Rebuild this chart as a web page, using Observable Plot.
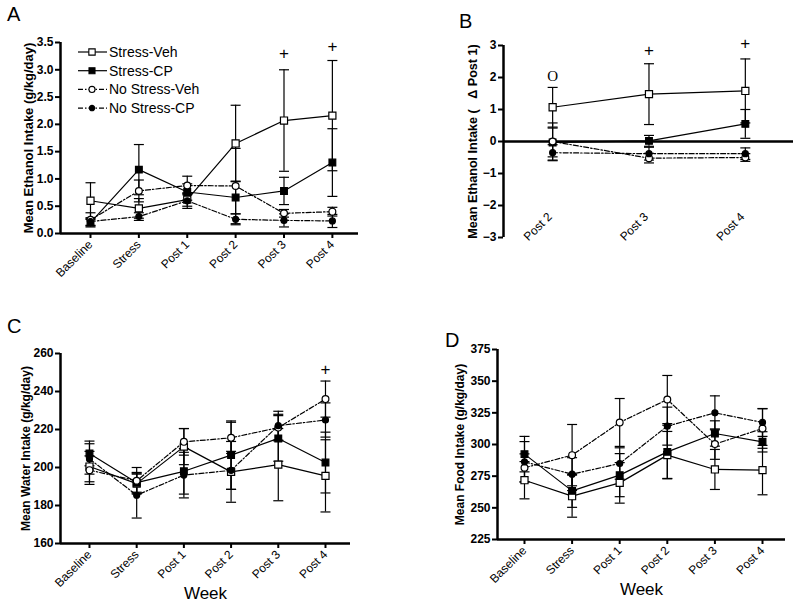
<!DOCTYPE html>
<html><head><meta charset="utf-8">
<script src="https://cdn.jsdelivr.net/npm/d3@7"></script>
<script src="https://cdn.jsdelivr.net/npm/@observablehq/plot@0.6"></script>
<style>
html,body{margin:0;padding:0;background:#fff;}
#root{position:relative;width:800px;height:610px;overflow:hidden;font-family:"Liberation Sans",Arial,sans-serif;}
.panel{position:absolute;}
.panel svg{overflow:visible;}
#overlay{position:absolute;left:0;top:0;pointer-events:none;}
[aria-label="y-axis tick label"], [aria-label="y-axis tick label"] text{font-weight:bold;font-size:12px;}
[aria-label="y-axis label"], [aria-label="y-axis label"] text{font-weight:bold;font-size:12px;}
[aria-label="x-axis tick label"], [aria-label="x-axis tick label"] text{font-size:12px;}
.pA [aria-label="y-axis label"], .pA [aria-label="y-axis label"] text{font-size:13px;}
.pB [aria-label="y-axis label"], .pB [aria-label="y-axis label"] text{font-size:12.6px;}
</style></head>
<body><div id="root"></div>
<script>
// ---------- data ----------
const weeks = ["Baseline","Stress","Post 1","Post 2","Post 3","Post 4"];
const deltaWeeks = ["Post 2","Post 3","Post 4"];
const groups = ["Stress-Veh","Stress-CP","No Stress-Veh","No Stress-CP"];

const ethanolMean = [
  [0.60,0.46,0.62,1.65,2.07,2.16],
  [0.20,1.17,0.76,0.66,0.78,1.30],
  [0.25,0.78,0.88,0.87,0.37,0.40],
  [0.22,0.31,0.60,0.26,0.24,0.23]];
const ethanolSem = [
  [0.33,0.18,0.12,0.70,0.93,1.01],
  [0.06,0.46,0.15,0.30,0.25,0.62],
  [0.13,0.20,0.17,0.69,0.07,0.08],
  [0.07,0.07,0.14,0.10,0.12,0.12]];

const deltaMean = [
  [1.07,1.48,1.58],
  [-0.03,0.02,0.55],
  [0.00,-0.52,-0.50],
  [-0.35,-0.38,-0.38]];
const deltaSem = [
  [0.62,0.95,1.00],
  [0.45,0.17,0.45],
  [0.58,0.15,0.12],
  [0.25,0.20,0.18]];

const waterMean = [
  [200.5,191.5,211.0,197.7,201.5,195.6],
  [207.4,192.0,198.0,206.5,215.3,202.6],
  [198.6,193.0,213.5,215.6,221.0,236.0],
  [204.5,185.4,196.0,198.5,222.0,225.0]];
const waterSem = [
  [8,5,9.5,16,19,19],
  [6.5,5,12,18,12,16],
  [7.5,7,7,8.2,7,9.5],
  [8,12,12,10,7.6,9]];

const foodMean = [
  [271.8,259.2,269.7,291.6,280.3,279.8],
  [292.4,263.4,275.8,294.2,308.7,302.1],
  [281.6,291.6,317.4,335.5,300.3,312.6],
  [286.3,276.6,285.0,314.5,325.0,317.4]];
const foodSem = [
  [14.7,16.6,16,18.7,15.8,19.5],
  [14,13,17,21,10,8],
  [11,24.2,18.9,19,12,15.6],
  [16,13,12.4,15,13.4,11]];

const ethanolNotes = [{week:"Post 3", y:3.30, text:"+"},{week:"Post 4", y:3.42, text:"+"}];
const deltaNotes = [{week:"Post 2", y:2.05, text:"O"},{week:"Post 3", y:2.85, text:"+"},{week:"Post 4", y:3.05, text:"+"}];
const waterNotes = [{week:"Post 4", y:251.5, text:"+"}];
const foodNotes = [];

const ethanolTicks = [0,0.5,1,1.5,2,2.5,3,3.5];
const deltaTicks = [-3,-2,-1,0,1,2,3];
const waterTicks = [160,180,200,220,240,260];
const foodTicks = [225,250,275,300,325,350,375];

const ethanolLabel = "Mean Ethanol Intake (g/kg/day)";
const deltaLabel = "Mean Ethanol Intake (\u00A0\u00A0\u00A0\u0394 Post 1)";
const waterLabel = "Mean Water Intake (g/kg/day)";
const foodLabel = "Mean Food Intake (g/kg/day)";
const xTitle = "Week";

// ---------- styles ----------
const FONT = "Liberation Sans, Arial, sans-serif";
const groupStyle = [
  {symbol:"square", fill:"white", r:4.0, dash:null},
  {symbol:"square", fill:"black", r:3.8, dash:null},
  {symbol:"circle", fill:"white", r:3.4, dash:"5,2,1.5,2"},
  {symbol:"circle", fill:"black", r:3.0, dash:"5,2,1.5,2"}];
const cap = {draw(ctx, size){const r = Math.sqrt(size/Math.PI); ctx.moveTo(-r,0); ctx.lineTo(r,0);}};

const root = document.getElementById("root");

function makePanel(cfg){
  const {cls, cats, means, sems, ticks, tickFormat, yDomain, xDomain, m, left, top, width, height,
         ylabel, labelOffset, rotatedAxis, week, notes, zero} = cfg;
  const rows = means.flatMap((row,gi)=>row.map((v,i)=>({gi, i, mean:v, sem:sems[gi][i]})));
  const marks = [];
  marks.push(Plot.ruleX([xDomain[0]], {strokeWidth:2.5}));
  marks.push(Plot.ruleY([zero ? 0 : yDomain[0]], {strokeWidth:2.5}));
  marks.push(Plot.axisY({ticks, tickFormat, tickSize:5, tickPadding:2, strokeWidth:2,
     fontSize:12, fontWeight:"bold", label:ylabel, labelAnchor:"center", labelOffset, labelArrow:"none"}));
  if (rotatedAxis) {
    marks.push(Plot.axisX({ticks: d3.range(cats.length), tickFormat: i=>cats[i], tickSize:5, strokeWidth:2,
       tickRotate:-45, tickPadding:4, fontSize:12, label:null}));
  } else {
    marks.push(Plot.text(cats, {x:(d,i)=>i, frameAnchor:"bottom", dy:-20, rotate:-45, textAnchor:"end", fontSize:12}));
  }
  if (week) marks.push(Plot.text([week], {frameAnchor:"bottom", dy:55, fontSize:17, text:d=>d}));
  // error bars
  marks.push(Plot.ruleX(rows, {x:"i", y1:d=>d.mean-d.sem, y2:d=>d.mean+d.sem, strokeWidth:1.2}));
  marks.push(Plot.dot(rows, {x:"i", y:d=>d.mean+d.sem, symbol:cap, r:5, stroke:"black", strokeWidth:1.2}));
  marks.push(Plot.dot(rows, {x:"i", y:d=>d.mean-d.sem, symbol:cap, r:5, stroke:"black", strokeWidth:1.2}));
  // lines
  groupStyle.forEach((s,gi)=>{
    marks.push(Plot.line(rows.filter(d=>d.gi===gi), {x:"i", y:"mean", stroke:"black", strokeWidth:1.2,
      strokeDasharray: s.dash || undefined}));
  });
  groupStyle.forEach((s,gi)=>{
    marks.push(Plot.dot(rows.filter(d=>d.gi===gi), {x:"i", y:"mean", symbol:s.symbol, r:s.r,
      fill:s.fill, stroke:"black", strokeWidth:1.2}));
  });
  const plus = notes.filter(d=>d.text!=="O"), oh = notes.filter(d=>d.text==="O");
  marks.push(Plot.text(plus, {x:d=>cats.indexOf(d.week), y:"y", text:"text", fontSize:17, fill:"black"}));
  marks.push(Plot.text(oh, {x:d=>cats.indexOf(d.week), y:"y", text:"text", fontSize:15, fill:"black", fontFamily:"Liberation Serif, Times New Roman, serif"}));

  const svg = Plot.plot({
    width, height, marginLeft:m[3], marginRight:m[1], marginTop:m[0], marginBottom:m[2],
    x:{type:"linear", domain:xDomain, axis:null},
    y:{domain:yDomain},
    style:{background:"transparent", fontFamily:FONT, fontSize:"12px", color:"black", overflow:"visible"},
    marks
  });
  const div = document.createElement("div");
  div.className = "panel " + cls;
  div.style.left = left+"px"; div.style.top = top+"px";
  div.appendChild(svg);
  root.appendChild(div);
}

makePanel({cls:"pA", cats:weeks, means:ethanolMean, sems:ethanolSem, ticks:ethanolTicks, tickFormat:d3.format(".1f"),
  yDomain:[0,3.5], xDomain:[-0.62,5.54], m:[42,42,67,60], left:0, top:0, width:400, height:300,
  ylabel:ethanolLabel, labelOffset:37, rotatedAxis:true, week:null, notes:ethanolNotes});
makePanel({cls:"pB", cats:deltaWeeks, means:deltaMean, sems:deltaSem, ticks:deltaTicks, tickFormat:d3.format("d"),
  yDomain:[-3,3], xDomain:[-0.51,2.5], m:[45,7,63,103], left:400, top:0, width:400, height:300,
  ylabel:deltaLabel, labelOffset:35, rotatedAxis:false, week:null, notes:deltaNotes, zero:true});
makePanel({cls:"pC", cats:weeks, means:waterMean, sems:waterSem, ticks:waterTicks, tickFormat:d3.format("d"),
  yDomain:[160,260], xDomain:[-0.614,5.53], m:[53,50,67,60], left:0, top:300, width:400, height:310,
  ylabel:waterLabel, labelOffset:39, rotatedAxis:true, week:xTitle, notes:waterNotes});
makePanel({cls:"pD", cats:weeks, means:foodMean, sems:foodSem, ticks:foodTicks, tickFormat:d3.format("d"),
  yDomain:[225,375], xDomain:[-0.567,5.483], m:[49,15,71,97], left:400, top:300, width:400, height:310,
  ylabel:foodLabel, labelOffset:42, rotatedAxis:true, week:xTitle, notes:foodNotes});

// ---------- overlay: panel letters and legend ----------
const ov = d3.select(root).append("svg").attr("id","overlay").attr("width",800).attr("height",610)
  .style("font-family", FONT);
const letters = [["A",7,21],["B",459,28],["C",7,333],["D",445,347]];
ov.selectAll("text.letter").data(letters).join("text").attr("class","letter")
  .attr("x",d=>d[1]).attr("y",d=>d[2]).attr("font-size",20).text(d=>d[0]);

const lg = ov.append("g").attr("transform","translate(78,52)");
groups.forEach((g,gi)=>{
  const s = groupStyle[gi], y = gi*18.7;
  lg.append("line").attr("x1",0).attr("x2",29).attr("y1",y).attr("y2",y)
    .attr("stroke","black").attr("stroke-width",1.2).attr("stroke-dasharray", s.dash || null);
  const sym = d3.symbol(s.symbol==="square"?d3.symbolSquare:d3.symbolCircle, Math.PI*s.r*s.r*0.8);
  lg.append("path").attr("d",sym()).attr("transform",`translate(14,${y})`)
    .attr("fill",s.fill).attr("stroke","black").attr("stroke-width",1.1);
  lg.append("text").attr("x",31).attr("y",y+5).attr("font-size",14).text(g);
});
</script>
</body></html>
